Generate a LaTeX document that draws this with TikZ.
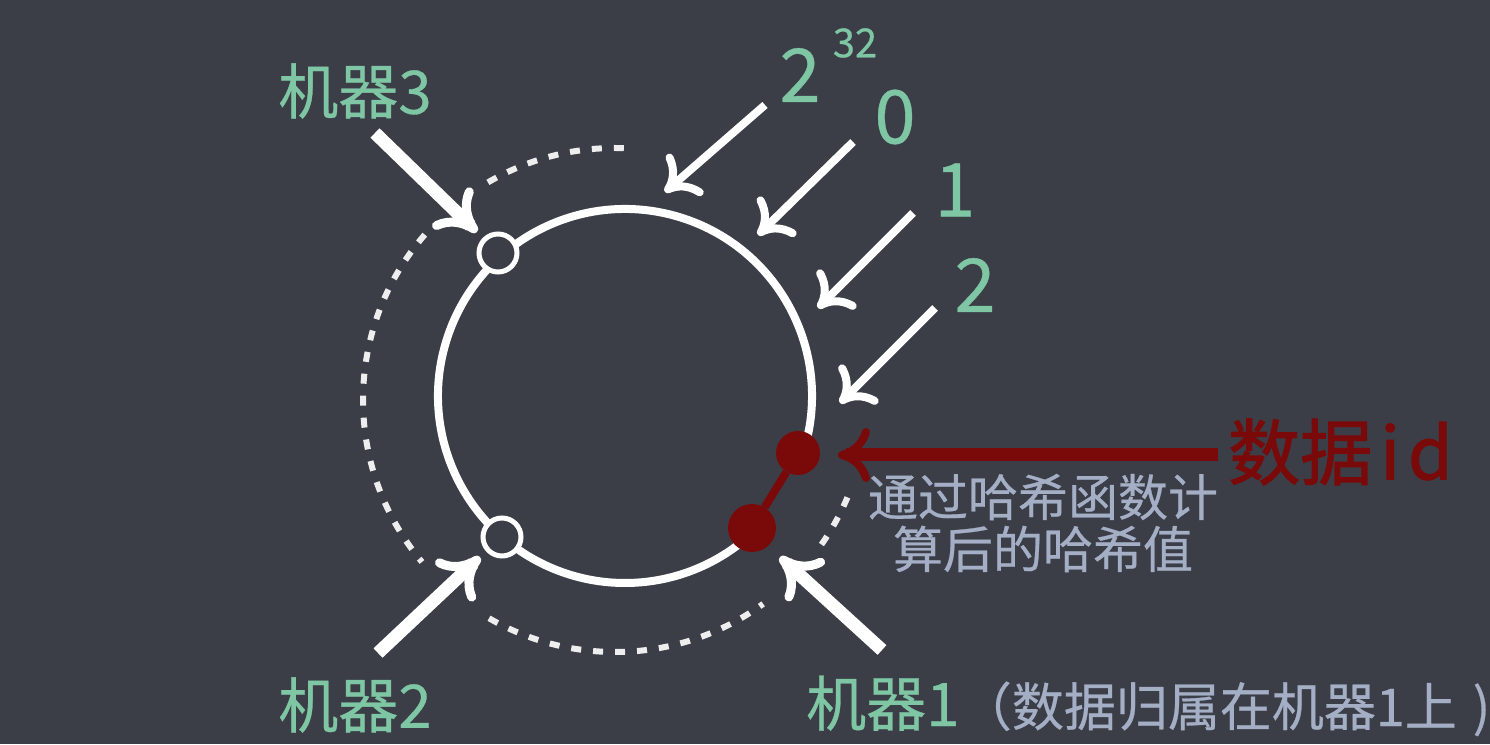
\documentclass[tikz,border=0pt]{standalone}
\usepackage{fontspec}
\setmainfont{Noto Sans CJK SC}[FakeBold=0.5]
\newfontfamily\idfont{Noto Sans CJK SC}[FakeBold=1.6]
\usetikzlibrary{arrows.meta}
\definecolor{bg}{HTML}{3B3E47}
\definecolor{lgreen}{HTML}{7FC6A4}
\definecolor{lgrey}{HTML}{A4AFC6}
\definecolor{dred}{HTML}{7A0A0A}
\definecolor{ringdash}{HTML}{EEEEEE}
\begin{document}
\begin{tikzpicture}[x=1pt,y=1pt,
  thinarrow/.style={draw=white, line width=8pt,
    -{Computer Modern Rightarrow[length=30pt,width=54pt]}},
  thickarrow/.style={draw=white, line width=13pt,
    -{Computer Modern Rightarrow[length=38pt,width=56pt,line width=9pt]}},
  redarrow/.style={draw=dred, line width=13pt,
    -{Computer Modern Rightarrow[length=32pt,width=54pt,line width=8pt]}},
  ring/.style={draw=white, line width=8pt},
  dashring/.style={draw=ringdash, line width=6pt, dash pattern=on 10pt off 12pt},
  machine/.style={circle, draw=white, fill=bg, line width=5pt, minimum size=38pt, inner sep=0pt},
  hashdot/.style={circle, fill=dred, inner sep=0pt},
  greenlbl/.style={text=lgreen, inner sep=0pt, font=\fontsize{60}{66}\selectfont},
  numlbl/.style={text=lgreen, inner sep=0pt, font=\fontsize{74}{80}\selectfont},
  greylbl/.style={text=lgrey, inner sep=0pt, font=\fontsize{52}{56}\selectfont},
]
\fill[bg] (0,0) rectangle (1490,744);
\useasboundingbox (0,0) rectangle (1490,744);

% centres
\coordinate (rc) at (625,348);
\coordinate (dc) at (615,344);

% dashed outer arc (segments)
\draw[dashring] ([shift={(88:252)}]dc) arc[start angle=88, end angle=122, radius=252];
\draw[dashring] ([shift={(139:252)}]dc) arc[start angle=139, end angle=220, radius=252];
\draw[dashring] ([shift={(240:252)}]dc) arc[start angle=240, end angle=306, radius=252];
\draw[dashring] ([shift={(325:252)}]dc) arc[start angle=325, end angle=338, radius=252];

% main ring
\draw[ring] ([shift={(-18:187)}]rc) arc[start angle=-18, end angle=314, radius=187];

% machines
\node[machine] (m3) at (498,491) {};
\node[machine] (m2) at (502,207) {};

% hash dots
\node[hashdot, minimum size=44pt] (h1) at (798,291) {};
\node[hashdot, minimum size=48pt] (h2) at (752,216) {};
\draw[dred, line width=8pt] (h1) -- (h2);

% arrow coordinates
\coordinate (t32) at (765,639); \coordinate (p32) at (665,552);
\coordinate (t0) at (853,602);  \coordinate (p0) at (758,509);
\coordinate (t1) at (913,531);  \coordinate (p1) at (818,436);
\coordinate (t2) at (935,436);  \coordinate (p2) at (840,341);
\coordinate (tm3) at (375,611); \coordinate (pm3) at (477,512);
\coordinate (tm2) at (378,91);  \coordinate (pm2) at (480,187);
\coordinate (tm1) at (882,94);  \coordinate (pm1) at (780,187);
\coordinate (tid) at (1218,289); \coordinate (pid) at (838,289);

\draw[thinarrow] (t32) -- (p32);
\draw[thinarrow] (t0) -- (p0);
\draw[thinarrow] (t1) -- (p1);
\draw[thinarrow] (t2) -- (p2);
\draw[thickarrow] (tm3) -- (pm3);
\draw[thickarrow] (tm2) -- (pm2);
\draw[thickarrow] (tm1) -- (pm1);
\draw[redarrow] (tid) -- (pid);

% labels
\node[numlbl] (l2) at (800,669) {2};
\node[text=lgreen, inner sep=0pt, font=\fontsize{40}{44}\selectfont] (l32) at (855,701) {32};
\node[numlbl] (l0) at (895,627) {0};
\node[numlbl] (l1) at (955,554) {1};
\node[numlbl] (l2b) at (975,459) {2};

\node[greenlbl] (lm3) at (355,653) {机器3};
\node[greenlbl] (lm2) at (355,39) {机器2};
\node[greenlbl, anchor=base west] (lm1) at (806,18) {机器1};
\node[greylbl, anchor=base west] (lm1b) at (lm1.base east) {（数据归属在机器1上\kern16pt)};

\node[text=dred, inner sep=0pt, font=\idfont\fontsize{72}{76}\selectfont, anchor=west] (id) at (1228,292) {数据\hspace{8pt}i\hspace{8pt}d};
\node[greylbl, align=center, font=\fontsize{50}{52}\selectfont] (hv) at (1043,221) {通过哈希函数计\\算后的哈希值};
\end{tikzpicture}
\end{document}
